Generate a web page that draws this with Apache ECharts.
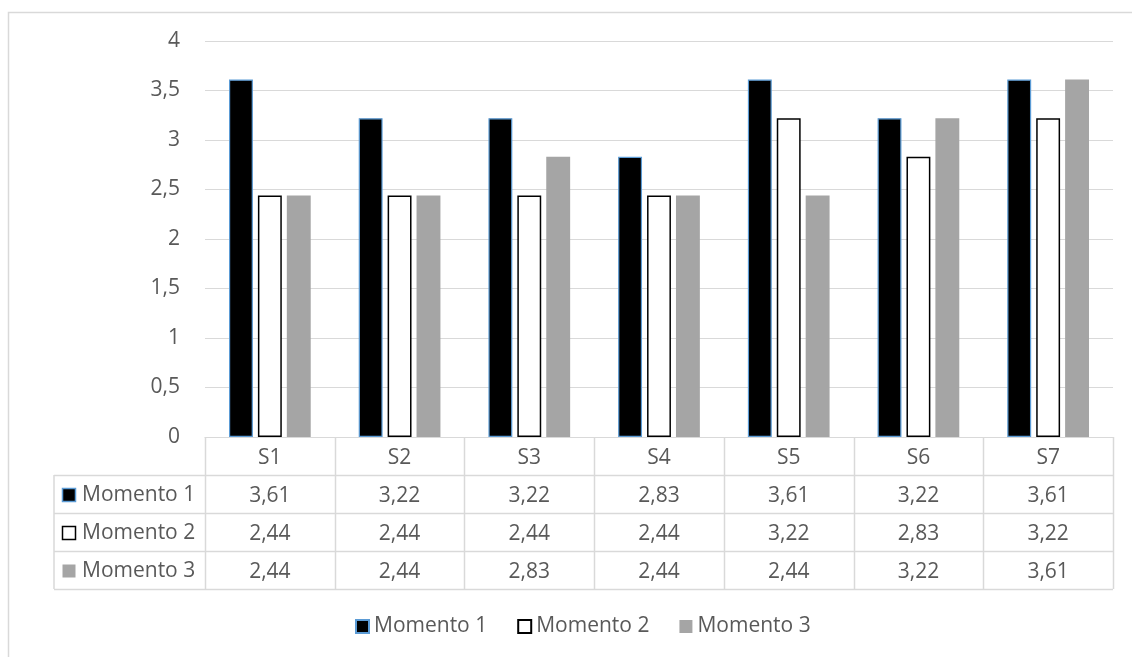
<!DOCTYPE html>
<html>
<head>
<meta charset="utf-8">
<script src="https://cdn.jsdelivr.net/npm/echarts@6/dist/echarts.min.js"></script>
<style>
  html, body { margin: 0; padding: 0; background: #fff; }
  #chart { width: 1132px; height: 657px; }
</style>
</head>
<body>
<div id="chart"></div>
<script>
// Categories and series values
const categories = ['S1', 'S2', 'S3', 'S4', 'S5', 'S6', 'S7'];
const seriesNames = ['Momento 1', 'Momento 2', 'Momento 3'];
const momento1 = [3.61, 3.22, 3.22, 2.83, 3.61, 3.22, 3.61];
const momento2 = [2.44, 2.44, 2.44, 2.44, 3.22, 2.83, 3.22];
const momento3 = [2.44, 2.44, 2.83, 2.44, 2.44, 3.22, 3.61];
const yTicks = { min: 0, max: 4, interval: 0.5 };

const FONT = '"Open Sans", "Noto Sans", sans-serif';
const TEXT = '#595959';
const LINE = '#D9D9D9';
const FS = 21;
const ROW_H = 38;

const styles = [
  { color: '#000000', borderColor: '#5B9BD5', borderWidth: 1.2 },
  { color: '#FFFFFF', borderColor: '#000000', borderWidth: 1.5 },
  { color: '#A5A5A5', borderColor: '#A5A5A5', borderWidth: 0 }
];
const values = [momento1, momento2, momento3];
const fmt = v => v.toFixed(2).replace('.', ',');

const chart = echarts.init(document.getElementById('chart'), null, { renderer: 'canvas' });

// One hidden-line x axis per table row, used to print the values in the data table
const valueAxes = values.map((arr, k) => ({
  type: 'category',
  data: categories,
  position: 'bottom',
  offset: ROW_H * (k + 1),
  axisLine: { show: false },
  axisTick: { show: false },
  axisLabel: {
    margin: 11,
    color: TEXT, fontFamily: FONT, fontSize: FS,
    formatter: (val, idx) => fmt(arr[idx])
  }
}));

chart.setOption({
  animation: false,
  textStyle: { fontFamily: FONT },
  grid: { left: 205, right: 19, top: 41, bottom: 220, containLabel: false },
  legend: {
    top: 611,
    left: 350,
    itemWidth: 13,
    itemHeight: 13,
    itemGap: 30,
    icon: 'rect',
    textStyle: { color: TEXT, fontFamily: FONT, fontSize: FS },
    data: seriesNames
  },
  xAxis: [{
    type: 'category',
    data: categories,
    axisLine: { show: true, lineStyle: { color: LINE, width: 1 } },
    axisTick: { show: false },
    axisLabel: { margin: 11, color: TEXT, fontFamily: FONT, fontSize: FS }
  }].concat(valueAxes),
  yAxis: {
    type: 'value',
    min: yTicks.min, max: yTicks.max, interval: yTicks.interval,
    axisLine: { show: false },
    axisTick: { show: false },
    splitLine: { lineStyle: { color: LINE, width: 1 } },
    axisLabel: {
      margin: 25, color: TEXT, fontFamily: FONT, fontSize: FS,
      formatter: v => String(v).replace('.', ',')
    }
  },
  series: seriesNames.map((name, i) => ({
    name,
    type: 'bar',
    data: values[i],
    barCategoryGap: '37%',
    barGap: '21%',
    itemStyle: styles[i],
    emphasis: { disabled: true }
  }))
});

// Data table grid lines and row headers, placed from the axis scales
function drawTable() {
  const c0 = chart.convertToPixel({ xAxisIndex: 0 }, categories[0]);
  const c1 = chart.convertToPixel({ xAxisIndex: 0 }, categories[1]);
  const band = c1 - c0;
  const xStart = c0 - band / 2;
  const xEnd = xStart + band * categories.length;
  const yBase = chart.convertToPixel({ yAxisIndex: 0 }, 0);
  const yEnd = yBase + ROW_H * 4;
  const xLeft = 54;
  const items = [];
  const ln = (x1, y1, x2, y2) => items.push({
    type: 'line', silent: true,
    shape: { x1, y1, x2, y2 },
    style: { stroke: LINE, lineWidth: 1.5 }
  });
  for (let i = 0; i <= categories.length; i++) {
    const x = Math.round(xStart + band * i) + 0.5;
    ln(x, yBase, x, yEnd);
  }
  ln(xLeft, yBase + ROW_H, xLeft, yEnd);
  for (let r = 1; r <= 4; r++) {
    const y = Math.round(yBase + ROW_H * r) + 0.5;
    ln(xLeft, y, xEnd, y);
  }
  // Row headers with legend keys
  seriesNames.forEach((name, k) => {
    const cy = yBase + ROW_H * (k + 1) + ROW_H / 2 + 1;
    items.push({
      type: 'rect', silent: true,
      shape: { x: 62.5, y: Math.round(cy - 7) + 0.5, width: 13, height: 13 },
      style: {
        fill: styles[k].color,
        stroke: k === 2 ? null : styles[k].borderColor,
        lineWidth: k === 2 ? 0 : 1.5
      }
    });
    items.push({
      type: 'text', silent: true,
      x: 82, y: cy,
      style: {
        text: name, fill: TEXT, font: FS + 'px ' + FONT,
        verticalAlign: 'middle', align: 'left'
      }
    });
  });
  // Outer chart border
  items.push({
    type: 'rect', silent: true,
    shape: { x: 8.5, y: 12.5, width: 1200, height: 800 },
    style: { fill: null, stroke: LINE, lineWidth: 1.5 }
  });
  chart.setOption({ graphic: items });
}
drawTable();
</script>
</body>
</html>
